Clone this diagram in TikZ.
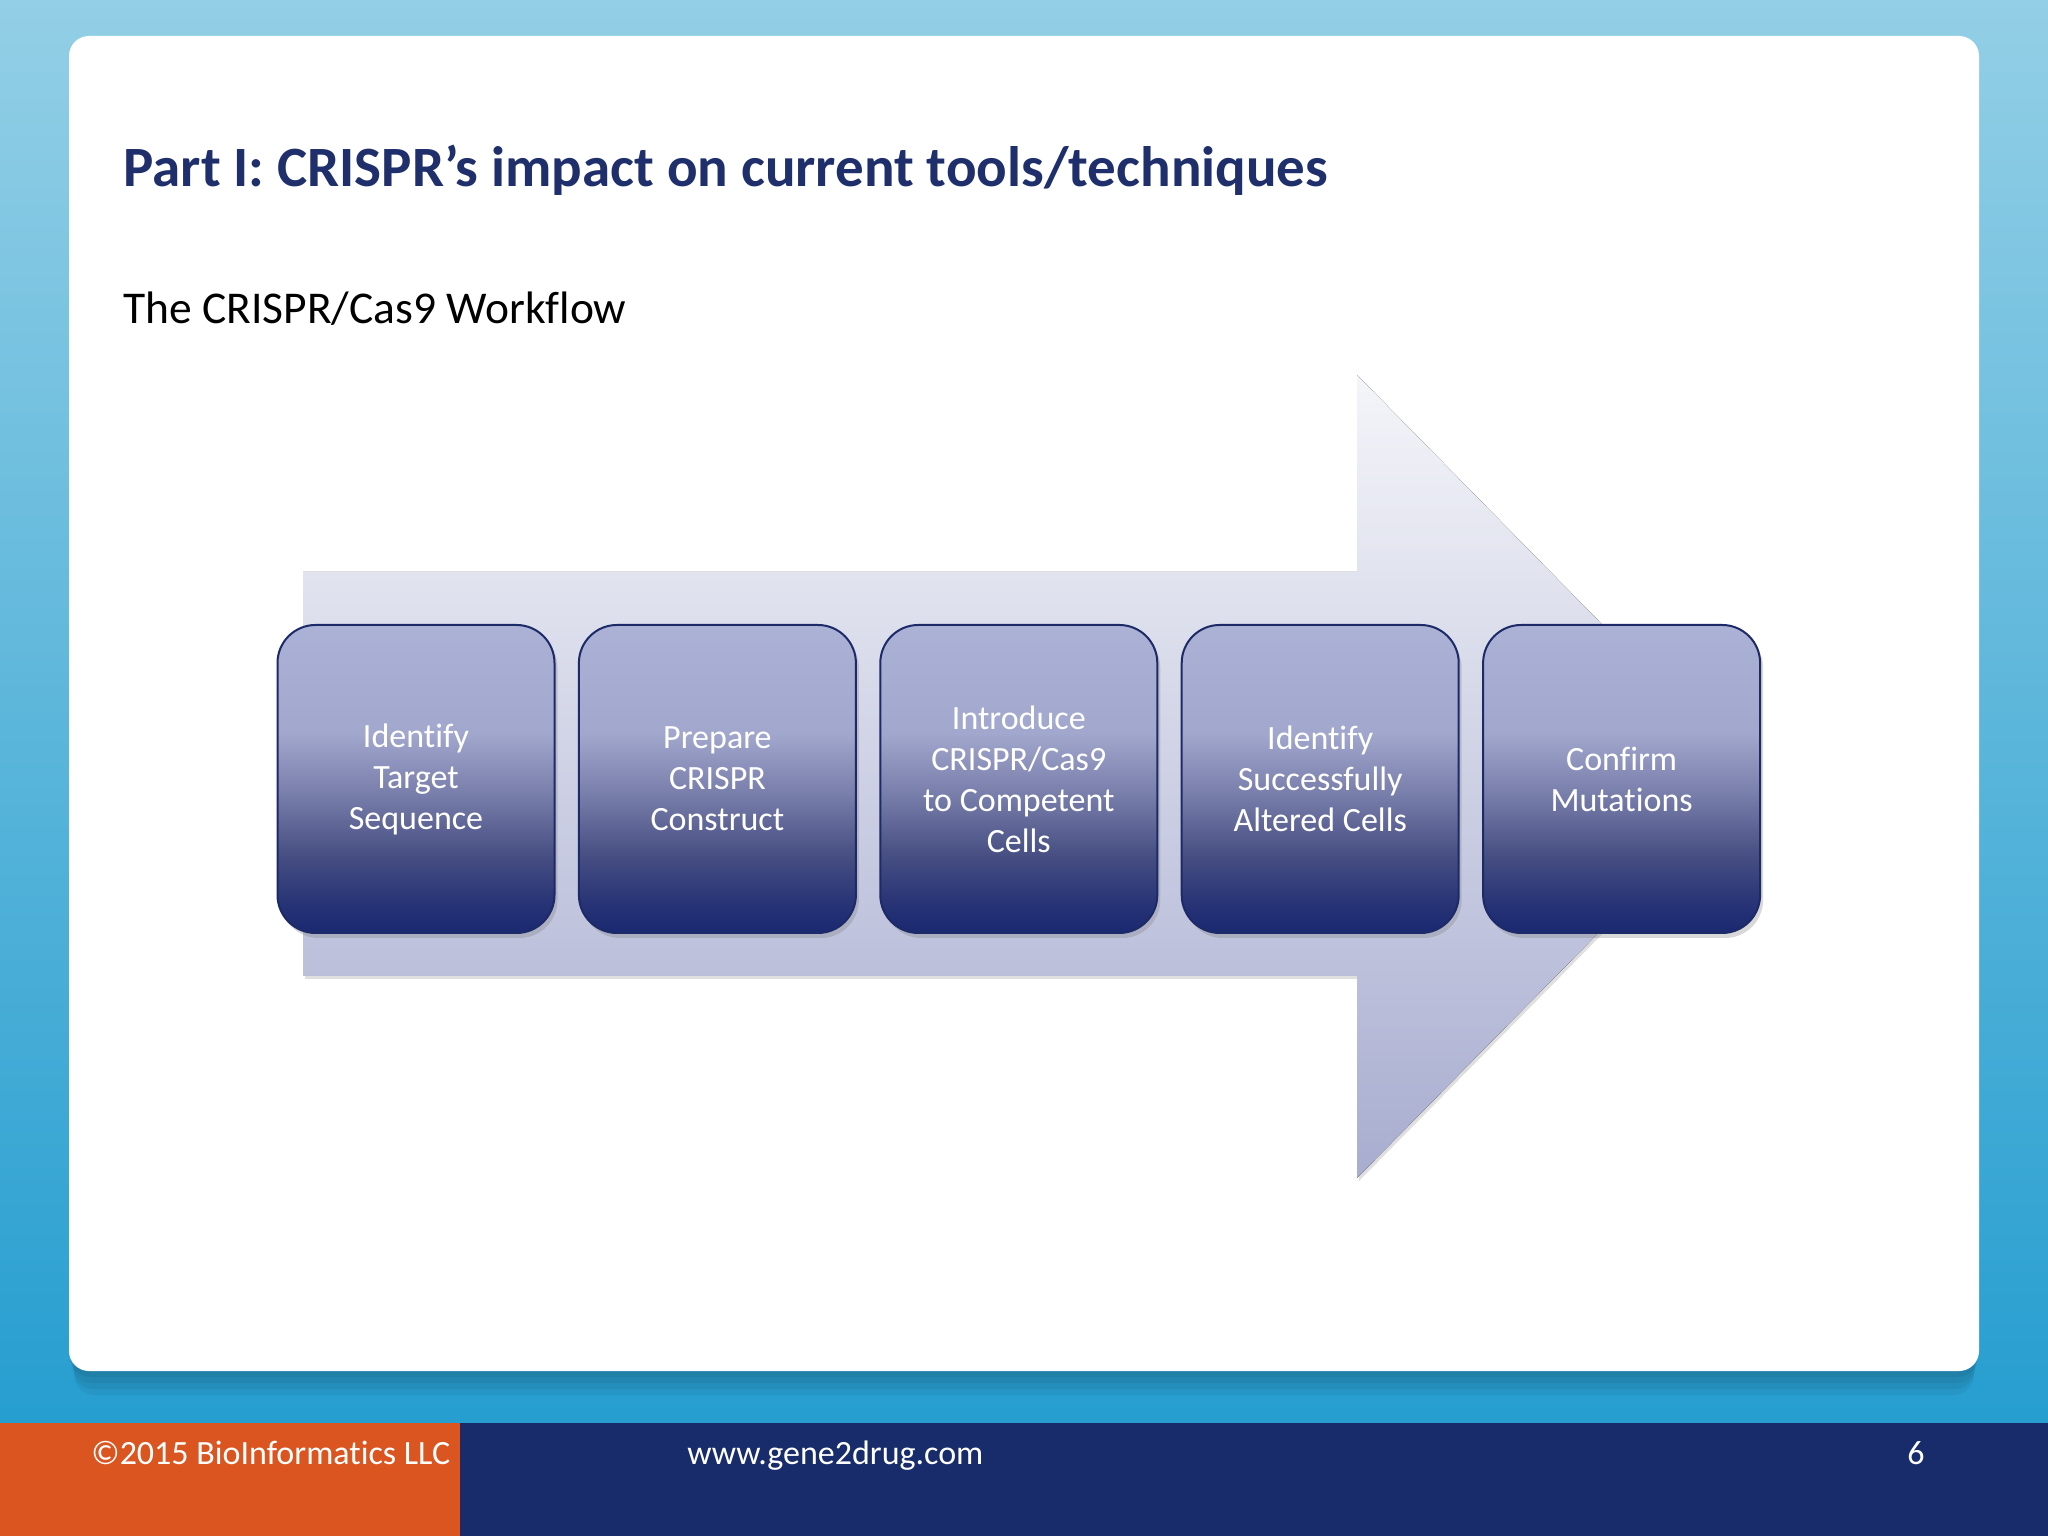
\documentclass[tikz,border=0pt]{standalone}
\usepackage{fontspec}
\setmainfont{Carlito}[Ligatures={TeX,NoCommon}]
\usetikzlibrary{positioning, shadows}
\definecolor{bgtop}{RGB}{147,207,230}
\definecolor{bgbot}{RGB}{38,158,208}
\definecolor{titleblue}{RGB}{31,47,107}
\definecolor{footorange}{RGB}{218,85,32}
\definecolor{footnavy}{RGB}{24,43,107}
\definecolor{arrowtop}{RGB}{244,245,249}
\definecolor{arrowbot}{RGB}{168,173,208}
\definecolor{boxtop}{RGB}{172,178,214}
\definecolor{boxupper}{RGB}{162,167,205}
\definecolor{boxmid}{RGB}{120,126,170}
\definecolor{boxlow}{RGB}{70,78,130}
\definecolor{boxdeep}{RGB}{40,52,118}
\definecolor{boxbot}{RGB}{26,40,112}
\definecolor{boxrim}{RGB}{28,42,104}
\pgfdeclareverticalshading{boxshade}{100bp}{color(0bp)=(boxbot); color(25bp)=(boxbot); color(30bp)=(boxdeep); color(37.5bp)=(boxlow); color(47.5bp)=(boxmid); color(57.5bp)=(boxupper); color(75bp)=(boxtop); color(100bp)=(boxtop)}
\tikzset{stepbox/.style={shape=rectangle, rounded corners=19pt, draw=boxrim, line width=1pt, shade, shading=boxshade, minimum width=138.5pt, minimum height=154pt, inner sep=0pt, text=white, align=center, font=\fontsize{17}{20.5}\selectfont, drop shadow={shadow xshift=1.5pt, shadow yshift=-2.5pt, opacity=0.3}}}
\tikzset{foottext/.style={anchor=base west, inner sep=0pt, text=white, font=\fontsize{17}{20}\selectfont}}

\begin{document}
\begin{tikzpicture}[x=0.5pt, y=0.5pt]
    \useasboundingbox (0,0) rectangle (2048,1536);
    \fill[top color=bgtop, bottom color=bgbot] (0,113) rectangle (2048,1536);
    \fill[footorange] (0,0) rectangle (460,113);
    \fill[footnavy] (460,0) rectangle (2048,113);
    \foreach \d in {4,8,12,16}
        \fill[black, opacity=0.05, rounded corners=10pt] (69+\d/3,165-\d*1.5) rectangle (1979-\d/3,1490);
    \fill[white, rounded corners=10pt] (69,165) rectangle (1979,1500);
    \node[anchor=base west, inner sep=0pt, text=titleblue, font=\fontsize{28.5}{34}\selectfont\bfseries] (title) at (123,1349) {Part I: CRISPR’s impact on current tools/techniques};
    \node[anchor=base west, inner sep=0pt, font=\fontsize{22.75}{27}\selectfont] (subtitle) at (123,1212) {The CRISPR/Cas9 Workflow};
    \fill[top color=arrowtop, bottom color=arrowbot, drop shadow={shadow xshift=1pt, shadow yshift=-1.5pt, opacity=0.25}] (303,964) -- (1357,964) -- (1357,1161) -- (1752,759) -- (1357,358) -- (1357,560) -- (303,560) -- cycle;
    \node[stepbox] (identify) at (416,757) {Identify\\Target\\Sequence};
    \node[stepbox, right=11.2pt of identify] (prepare) {Prepare\\CRISPR\\Construct};
    \node[stepbox, right=11.2pt of prepare] (introduce) {Introduce\\CRISPR/Cas9\\to Competent\\Cells};
    \node[stepbox, right=11.2pt of introduce] (altered) {Identify\\Successfully\\Altered Cells};
    \node[stepbox, right=11.2pt of altered] (confirm) {Confirm\\Mutations};
    \node[foottext] (copyright) at (91,72) {©2015 BioInformatics LLC};
    \node[foottext] (website) at (687,72) {www.gene2drug.com};
    \node[foottext, anchor=base] (pagenum) at (1916,72) {6};
\end{tikzpicture}
\end{document}
